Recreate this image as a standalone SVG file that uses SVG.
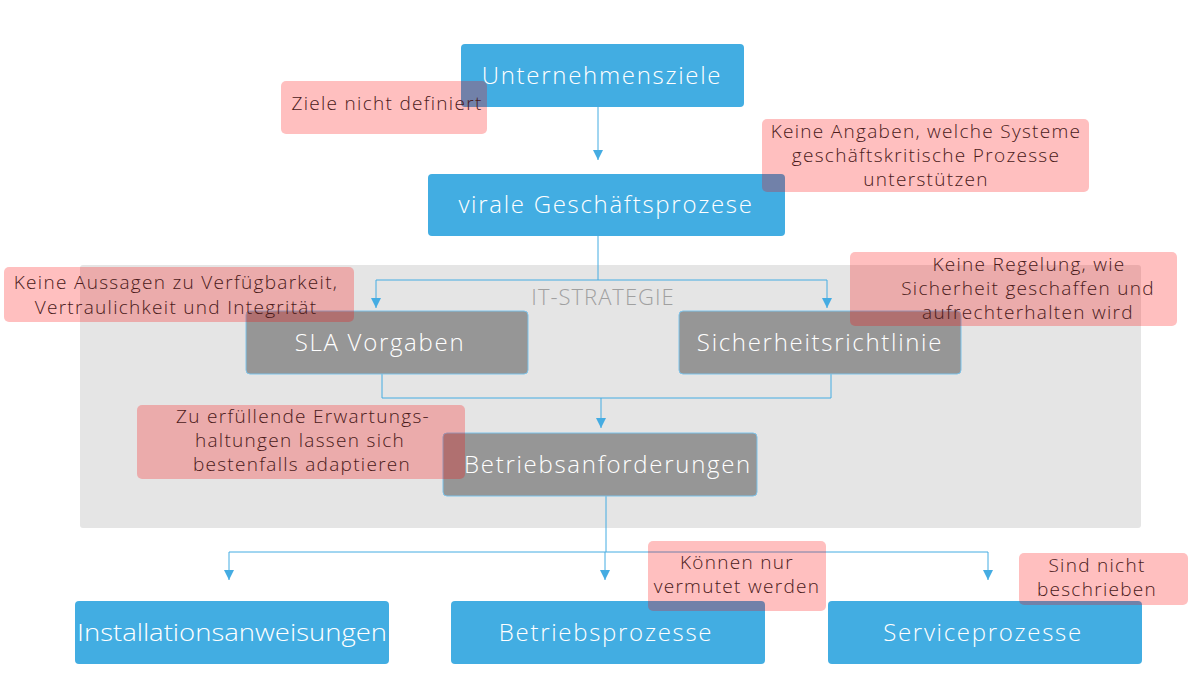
<svg xmlns="http://www.w3.org/2000/svg" width="1200" height="675" viewBox="0 0 1200 675">
<defs>
<marker id="ah" viewBox="0 0 10 10" refX="10" refY="5" markerWidth="10" markerHeight="10" markerUnits="userSpaceOnUse" orient="auto">
<path d="M0,0 L10,5 L0,10 Z" fill="#45ACE2"/>
</marker>
<style>
.blue{fill:#42ADE2;}
.grey{fill:#969696;stroke:#7CC3EA;stroke-width:1;}
.lbl{font-family:"Open Sans",Lato,"Liberation Sans",sans-serif;font-weight:300;font-size:24px;letter-spacing:1.7px;fill:#ffffff;text-anchor:middle;}
.note{fill:#ff0000;fill-opacity:0.25;}
.nt{font-family:"Open Sans",Lato,"Liberation Sans",sans-serif;font-weight:300;font-size:19px;letter-spacing:1.3px;fill:#4a1a1a;text-anchor:middle;}
.conn{fill:none;stroke:#45ACE2;stroke-width:1;}
</style>
</defs>
<rect width="1200" height="675" fill="#ffffff"/>
<g id="it-strategie">
<rect x="80" y="265" width="1061" height="263" rx="3" fill="#E5E5E5"/>
<text x="603" y="305" style="font-family:'Open Sans',Lato,'Liberation Sans',sans-serif;font-weight:300;font-size:22px;letter-spacing:1px;fill:#A0A0A0;text-anchor:middle;">IT-STRATEGIE</text>
</g>
<g id="connectors">
<path class="conn" d="M598,107 V160" marker-end="url(#ah)"/>
<path class="conn" d="M598,236 V280 H376 V308" marker-end="url(#ah)"/>
<path class="conn" d="M598,280 H827 V308" marker-end="url(#ah)"/>
<path class="conn" d="M382,374 V398 H831 V374"/>
<path class="conn" d="M601,398 V428" marker-end="url(#ah)"/>
<path class="conn" d="M606,496 V552 H229 V580" marker-end="url(#ah)"/>
<path class="conn" d="M605,552 V580" marker-end="url(#ah)"/>
<path class="conn" d="M606,552 H988 V580" marker-end="url(#ah)"/>
</g>
<g id="unternehmensziele">
<rect class="blue" x="461" y="44" width="283" height="63" rx="4"/>
<text class="lbl" x="602" y="84">Unternehmensziele</text>
</g>
<g id="geschaeftsprozese">
<rect class="blue" x="428" y="174" width="357" height="62" rx="4"/>
<text class="lbl" x="606" y="213">virale Geschäftsprozese</text>
</g>
<g id="sla">
<rect class="grey" x="246" y="311" width="282" height="63" rx="4"/>
<text class="lbl" x="380" y="351">SLA Vorgaben</text>
</g>
<g id="sicherheit">
<rect class="grey" x="679" y="311" width="282" height="63" rx="4"/>
<text class="lbl" x="820" y="351">Sicherheitsrichtlinie</text>
</g>
<g id="betriebsanforderungen">
<rect class="grey" x="443" y="433" width="314" height="63" rx="4"/>
<text class="lbl" x="608" y="473">Betriebsanforderungen</text>
</g>
<g id="installationsanweisungen">
<rect class="blue" x="75" y="601" width="314" height="63" rx="4"/>
<text class="lbl" x="232" y="641" textLength="310" lengthAdjust="spacingAndGlyphs" style="letter-spacing:0">Installationsanweisungen</text>
</g>
<g id="betriebsprozesse">
<rect class="blue" x="451" y="601" width="314" height="63" rx="4"/>
<text class="lbl" x="606" y="641">Betriebsprozesse</text>
</g>
<g id="serviceprozesse">
<rect class="blue" x="828" y="601" width="314" height="63" rx="4"/>
<text class="lbl" x="983" y="641">Serviceprozesse</text>
</g>
<g id="note-ziele">
<rect class="note" x="281" y="81" width="206" height="53" rx="5"/>
<text class="nt" x="387" y="110">Ziele nicht definiert</text>
</g>
<g id="note-angaben">
<rect class="note" x="762" y="119" width="327" height="73" rx="5"/>
<text class="nt" x="926" y="138">Keine Angaben, welche Systeme</text>
<text class="nt" x="926" y="162">geschäftskritische Prozesse</text>
<text class="nt" x="926" y="186">unterstützen</text>
</g>
<g id="note-aussagen">
<rect class="note" x="4" y="267" width="350" height="55" rx="5"/>
<text class="nt" x="176" y="289">Keine Aussagen zu Verfügbarkeit,</text>
<text class="nt" x="176" y="314">Vertraulichkeit und Integrität</text>
</g>
<g id="note-regelung">
<rect class="note" x="850" y="252" width="327" height="74" rx="5"/>
<text class="nt" x="1029" y="271">Keine Regelung, wie</text>
<text class="nt" x="1028" y="295">Sicherheit geschaffen und</text>
<text class="nt" x="1028" y="319">aufrechterhalten wird</text>
</g>
<g id="note-erwartung">
<rect class="note" x="137" y="405" width="328" height="74" rx="5"/>
<text class="nt" x="303" y="423">Zu erfüllende Erwartungs-</text>
<text class="nt" x="300" y="447">haltungen lassen sich</text>
<text class="nt" x="302" y="471">bestenfalls adaptieren</text>
</g>
<g id="note-vermutet">
<rect class="note" x="648" y="541" width="178" height="70" rx="5"/>
<text class="nt" x="737" y="569">Können nur</text>
<text class="nt" x="737" y="593">vermutet werden</text>
</g>
<g id="note-beschrieben">
<rect class="note" x="1019" y="553" width="169" height="52" rx="5"/>
<text class="nt" x="1097" y="572">Sind nicht</text>
<text class="nt" x="1097" y="596">beschrieben</text>
</g>
</svg>
